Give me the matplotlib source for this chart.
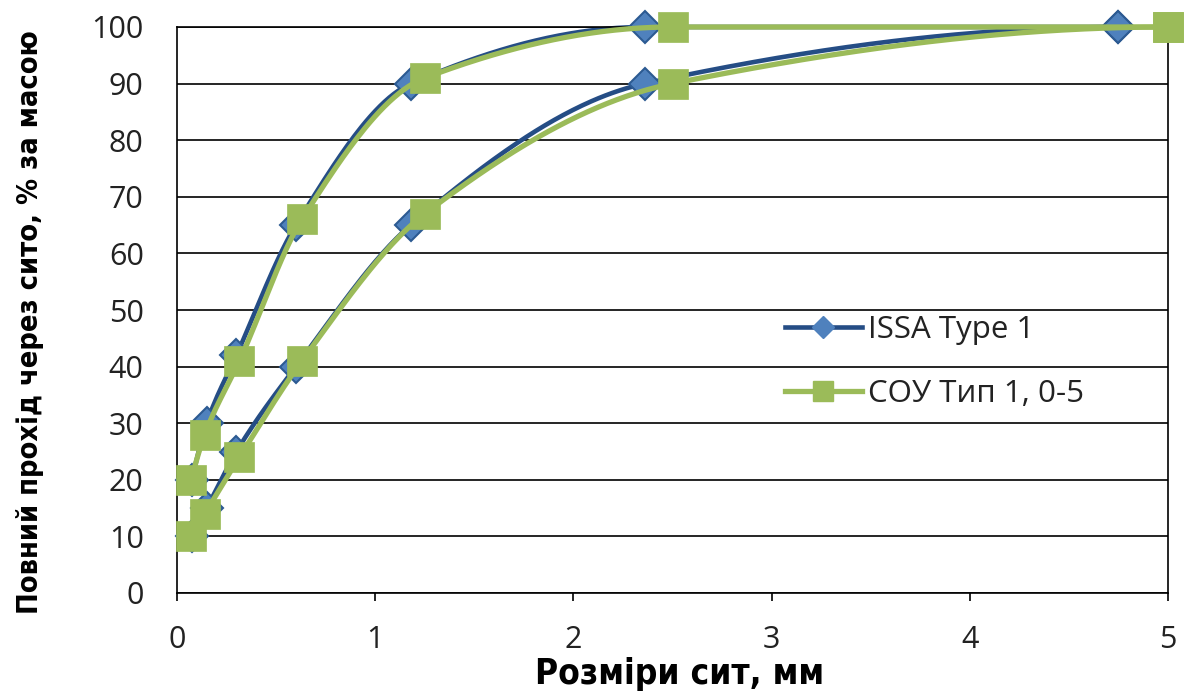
import numpy as np
import matplotlib
matplotlib.use("Agg")
import matplotlib.pyplot as plt
from matplotlib import font_manager
from matplotlib.font_manager import FontProperties
from matplotlib.lines import Line2D

# Sieve sizes, mm, and total passing, % by mass (upper / lower grading limits)
issa_sizes = [0.075, 0.15, 0.3, 0.6, 1.18, 2.36, 4.75]
issa_upper = [20, 30, 42, 65, 90, 100, 100]
issa_lower = [10, 15, 25, 40, 65, 90, 100]

sou_sizes = [0.071, 0.14, 0.315, 0.63, 1.25, 2.5, 5.0]
sou_upper = [20, 28, 41, 66, 91, 100, 100]
sou_lower = [10, 14, 24, 41, 67, 90, 100]

series_labels = ["ISSA Type 1", "СОУ Тип 1, 0-5"]
x_ticks = [0, 1, 2, 3, 4, 5]
y_ticks = list(range(0, 101, 10))
x_label = "Розміри сит, мм"
y_label = "Повний прохід через сито, % за масою"

ISSA_LINE = "#254d85"
ISSA_FILL = "#4f81bd"
ISSA_EDGE = "#2c5a92"
SOU_GREEN = "#9bbb59"

W, H = 1184, 693

installed = {f.name for f in font_manager.fontManager.ttflist}
tick_font = "Open Sans" if "Open Sans" in installed else "DejaVu Sans"


def pick_label_font():
    """Prefer a narrow/condensed bold sans for the axis titles."""
    best = None
    for f in font_manager.fontManager.ttflist:
        narrow = ("Narrow" in f.name or "Condensed" in f.name
                  or str(f.stretch) in ("condensed", "semi-condensed", "extra-condensed"))
        bold = (f.weight in ("bold", 700) or (isinstance(f.weight, int) and f.weight >= 600)
                or "Bold" in f.fname)
        if narrow and bold and "Oblique" not in f.fname and "Italic" not in f.fname:
            score = 0 if "Liberation" in f.name else 1
            if best is None or score < best[0]:
                best = (score, f.fname)
    if best:
        return FontProperties(fname=best[1])
    return FontProperties(family="Liberation Sans", weight="bold")


label_fp = pick_label_font()


def pchip(xs, ys, n=400):
    """Shape-preserving cubic interpolation (no overshoot) through the points."""
    x = np.asarray(xs, float)
    y = np.asarray(ys, float)
    h = np.diff(x)
    d = np.diff(y) / h
    m = np.zeros_like(x)
    for k in range(1, len(x) - 1):
        if d[k - 1] * d[k] > 0:
            w1 = 2 * h[k] + h[k - 1]
            w2 = h[k] + 2 * h[k - 1]
            m[k] = (w1 + w2) / (w1 / d[k - 1] + w2 / d[k])
    for k, (hh0, hh1, dd0, dd1) in ((0, (h[0], h[1], d[0], d[1])),
                                    (-1, (h[-1], h[-2], d[-1], d[-2]))):
        e = ((2 * hh0 + hh1) * dd0 - hh0 * dd1) / (hh0 + hh1)
        if np.sign(e) != np.sign(dd0):
            e = 0.0
        elif np.sign(dd0) != np.sign(dd1) and abs(e) > abs(3 * dd0):
            e = 3 * dd0
        m[k] = e
    xx = np.linspace(x[0], x[-1], n)
    idx = np.clip(np.searchsorted(x, xx) - 1, 0, len(x) - 2)
    s = (xx - x[idx]) / h[idx]
    h00 = 2 * s**3 - 3 * s**2 + 1
    h10 = s**3 - 2 * s**2 + s
    h01 = -2 * s**3 + 3 * s**2
    h11 = s**3 - s**2
    yy = h00 * y[idx] + h10 * h[idx] * m[idx] + h01 * y[idx + 1] + h11 * h[idx] * m[idx + 1]
    return xx, yy


fig = plt.figure(figsize=(W / 100, H / 100), dpi=100)
ax = fig.add_axes([177 / W, 1 - 593 / H, (1168 - 177) / W, (593 - 27) / H])

ax.set_xlim(0, 5)
ax.set_ylim(0, 100)
ax.set_xticks(x_ticks)
ax.set_yticks(y_ticks)
ax.yaxis.grid(True, color="black", linewidth=1.2, zorder=0)
ax.set_axisbelow(True)
for s in ax.spines.values():
    s.set_color("black")
    s.set_linewidth(1.2)

# ISSA limits (drawn first, underneath)
for ys in (issa_upper, issa_lower):
    sx, sy = pchip(issa_sizes, ys)
    ax.plot(sx, sy, color=ISSA_LINE, lw=3.3, zorder=2, clip_on=False,
            solid_capstyle="round")
    ax.plot(issa_sizes, ys, linestyle="none", marker="D", ms=16,
            markerfacecolor=ISSA_FILL, markeredgecolor=ISSA_EDGE, markeredgewidth=1.5,
            zorder=3, clip_on=False)

# СОУ limits (on top)
for ys in (sou_upper, sou_lower):
    sx, sy = pchip(sou_sizes, ys)
    ax.plot(sx, sy, color=SOU_GREEN, lw=3.8, zorder=4, clip_on=False,
            solid_capstyle="round")
    ax.plot(sou_sizes, ys, linestyle="none", marker="s", ms=21,
            markerfacecolor=SOU_GREEN, markeredgecolor=SOU_GREEN, markeredgewidth=0.5,
            zorder=5, clip_on=False)

ax.tick_params(axis="x", direction="out", length=6, width=1.2, pad=17,
               labelsize=22, colors="black")
ax.tick_params(axis="y", length=0, pad=24, labelsize=22, colors="black")
for lab in ax.get_xticklabels() + ax.get_yticklabels():
    lab.set_fontfamily(tick_font)
    lab.set_color("#222222")

# Axis titles, each sized so that its length suits the plot area
xt = fig.text(680 / W, 1 - 674 / H, x_label, fontproperties=label_fp.copy(),
              fontsize=26, ha="center", va="center", color="black")
yt = fig.text(30 / W, 1 - 322 / H, y_label, fontproperties=label_fp.copy(),
              fontsize=26, ha="center", va="center", rotation=90, color="black")
fig.canvas.draw()
renderer = fig.canvas.get_renderer()
x_len = xt.get_window_extent(renderer).width
y_len = yt.get_window_extent(renderer).height
xt.set_fontsize(26 * 290 / x_len)
yt.set_fontsize(26 * 586 / y_len)

handles = [
    Line2D([], [], color=ISSA_LINE, lw=3.3, marker="D", ms=11,
           markerfacecolor=ISSA_FILL, markeredgecolor=ISSA_FILL),
    Line2D([], [], color=SOU_GREEN, lw=3.8, marker="s", ms=14,
           markerfacecolor=SOU_GREEN, markeredgecolor=SOU_GREEN),
]
leg = fig.legend(handles, series_labels, loc="center left",
                 bbox_to_anchor=(785 / W, 1 - 362 / H),
                 frameon=False, borderpad=0, borderaxespad=0,
                 handlelength=2.45, handletextpad=0.2, labelspacing=1.1,
                 prop={"family": tick_font, "size": 22.5})
for t in leg.get_texts():
    t.set_color("#222222")

fig.savefig("out.png", dpi=100)
